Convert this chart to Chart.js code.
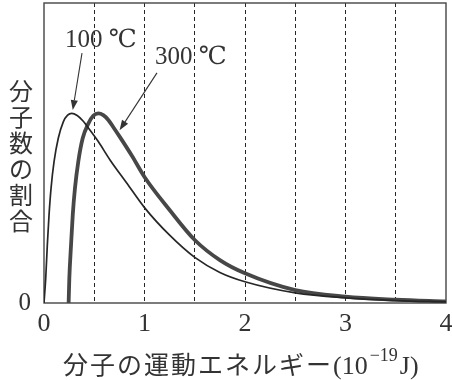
<!DOCTYPE html>
<html lang="ja">
<head>
<meta charset="utf-8">
<title>分子の運動エネルギー分布</title>
<script src="https://cdn.jsdelivr.net/npm/chart.js@4.4.1/dist/chart.umd.min.js"></script>
<style>
  html, body { margin: 0; padding: 0; background: #ffffff; }
  #wrap { position: relative; width: 452px; height: 380px; }
  canvas { display: block; }
</style>
</head>
<body>
<div id="wrap"><canvas id="chart" width="452" height="380"></canvas></div>
<script>
// Kinetic energy (10^-19 J) and relative share of molecules, 100 ℃
const energy100 = [0, 0.017, 0.033, 0.05, 0.07, 0.1, 0.142, 0.192, 0.235, 0.276, 0.33, 0.391, 0.44,
                   0.54, 0.657, 0.823, 1.0, 1.25, 1.5, 1.75, 2.0, 2.5, 3.0, 3.5, 4.0];
const ratio100  = [0, 8.2, 19.3, 29.3, 38.2, 47.1, 54.9, 60.4, 62.6, 63.2, 62.5, 60.6, 58.4,
                   53.8, 47.7, 40.0, 31.8, 22.6, 15.2, 10.2, 7.1, 3.4, 1.7, 0.8, 0.4];

// Same quantities, 300 ℃
const energy300 = [0.245, 0.252, 0.269, 0.286, 0.308, 0.341, 0.385, 0.441, 0.49, 0.54, 0.59, 0.64,
                   0.69, 0.756, 0.876, 1.0, 1.25, 1.5, 1.75, 2.0, 2.5, 3.0, 3.5, 4.0];
const ratio300  = [0, 8.2, 19.3, 29.3, 38.2, 47.1, 54.9, 59.8, 62.4, 63.2, 62.6, 61.0,
                   58.6, 55.3, 49.0, 42.0, 31.0, 21.0, 14.3, 9.9, 4.3, 2.1, 1.1, 0.5];

const seriesNames = ['100 ℃', '300 ℃'];
const xTickLabels = ['0', '1', '2', '3', '4'];
const yTickLabels = ['0'];
const yTitle = '分子数の割合';
const xTitleText = '分子の運動エネルギー';
const xTitleUnit = ['(10', '−19', 'J)'];

const SERIF = '"Liberation Serif", "DejaVu Serif", "Noto Sans CJK JP", serif';
const GOTHIC = '"Noto Sans CJK JP", "Noto Sans CJK SC", sans-serif';
const INK = '#333333';

const toPoints = (xs, ys) => xs.map((x, i) => ({ x, y: ys[i] }));

// Arrow call-outs that tie each temperature label to its curve (data units)
const callouts = [
  { label: seriesNames[0], at: { x: 0.21, y: 87.6 }, from: { x: 0.378, y: 83.3 }, to: { x: 0.286, y: 64.3 } },
  { label: seriesNames[1], at: { x: 1.105, y: 82.0 }, from: { x: 1.124, y: 76.7 }, to: { x: 0.752, y: 57.6 } }
];

const decorations = {
  id: 'decorations',
  beforeDatasetsDraw(chart) {
    const { ctx, chartArea: a } = chart;
    ctx.save();
    ctx.strokeStyle = '#454545';
    ctx.lineWidth = 1.4;
    ctx.strokeRect(a.left, a.top, a.right - a.left, a.bottom - a.top);
    ctx.restore();
  },
  afterDraw(chart) {
    const { ctx, scales: { x, y } } = chart;
    ctx.save();
    ctx.fillStyle = INK;
    ctx.strokeStyle = INK;

    // vertical, upright y-axis title
    ctx.font = '24px ' + GOTHIC;
    ctx.textAlign = 'center';
    ctx.textBaseline = 'middle';
    [...yTitle].forEach((ch, i) => ctx.fillText(ch, 21, 91 + i * 26));

    // x-axis title with superscript exponent
    ctx.textAlign = 'left';
    ctx.textBaseline = 'alphabetic';
    const base = 374;
    let cx = 63;
    ctx.font = '25px ' + GOTHIC;
    for (const ch of xTitleText) {
      ctx.fillText(ch, cx, base);
      cx += ctx.measureText(ch).width + 2;
    }
    ctx.font = '26px ' + SERIF;
    ctx.fillText(xTitleUnit[0], cx, base);
    cx += ctx.measureText(xTitleUnit[0]).width + 2;
    ctx.font = '18px ' + SERIF;
    ctx.fillText(xTitleUnit[1], cx, base - 13);
    cx += ctx.measureText(xTitleUnit[1]).width + 2;
    ctx.font = '26px ' + SERIF;
    ctx.fillText(xTitleUnit[2], cx, base);

    // labels and arrows
    for (const c of callouts) {
      ctx.font = '25px ' + SERIF;
      ctx.textBaseline = 'middle';
      ctx.fillText(c.label, x.getPixelForValue(c.at.x), y.getPixelForValue(c.at.y));

      const x0 = x.getPixelForValue(c.from.x), y0 = y.getPixelForValue(c.from.y);
      const x1 = x.getPixelForValue(c.to.x),   y1 = y.getPixelForValue(c.to.y);
      const ang = Math.atan2(y1 - y0, x1 - x0);
      const len = 10, half = 3.6;
      const bx = x1 - len * Math.cos(ang), by = y1 - len * Math.sin(ang);
      ctx.lineWidth = 1.1;
      ctx.beginPath();
      ctx.moveTo(x0, y0);
      ctx.lineTo(bx, by);
      ctx.stroke();
      ctx.beginPath();
      ctx.moveTo(x1, y1);
      ctx.lineTo(bx + half * Math.sin(ang), by - half * Math.cos(ang));
      ctx.lineTo(bx - half * Math.sin(ang), by + half * Math.cos(ang));
      ctx.closePath();
      ctx.fill();
    }
    ctx.restore();
  }
};

new Chart(document.getElementById('chart'), {
  type: 'scatter',
  data: {
    datasets: [
      {
        label: seriesNames[0],
        data: toPoints(energy100, ratio100),
        showLine: true,
        borderColor: '#262626',
        borderWidth: 1.7,
        pointRadius: 0,
        cubicInterpolationMode: 'monotone',
        borderJoinStyle: 'round'
      },
      {
        label: seriesNames[1],
        data: toPoints(energy300, ratio300),
        showLine: true,
        borderColor: '#474747',
        borderWidth: 3.8,
        pointRadius: 0,
        cubicInterpolationMode: 'monotone',
        borderJoinStyle: 'round'
      }
    ]
  },
  options: {
    responsive: false,
    animation: false,
    devicePixelRatio: 1,
    layout: { padding: { top: 3, right: 6, left: 0, bottom: 0 } },
    plugins: { legend: { display: false }, tooltip: { enabled: false } },
    scales: {
      x: {
        type: 'linear',
        min: 0,
        max: 4,
        afterFit(scale) {
          scale.height = 77;
          scale.paddingLeft = 0;
          scale.paddingRight = 0;
        },
        ticks: {
          stepSize: 0.5,
          autoSkip: false,
          maxRotation: 0,
          padding: 6,
          color: INK,
          font: { family: SERIF, size: 26 },
          callback: v => (Number.isInteger(v) ? xTickLabels[v] : '')
        },
        grid: {
          drawTicks: false,
          lineWidth: 1,
          color: ctx => (ctx.tick && (ctx.tick.value === 0 || ctx.tick.value === 4)) ? 'rgba(0,0,0,0)' : '#262626'
        },
        border: { display: false, dash: [4, 3] }
      },
      y: {
        type: 'linear',
        min: 0,
        max: 100,
        afterBuildTicks(scale) { scale.ticks = [{ value: 0 }]; },
        afterFit(scale) {
          scale.width = 44;
          scale.paddingTop = 0;
          scale.paddingBottom = 0;
        },
        ticks: {
          padding: 13,
          color: INK,
          font: { family: SERIF, size: 25 },
          callback: v => (v === 0 ? yTickLabels[0] : '')
        },
        grid: { display: false, drawTicks: false },
        border: { display: false }
      }
    }
  },
  plugins: [decorations]
});
</script>
</body>
</html>
